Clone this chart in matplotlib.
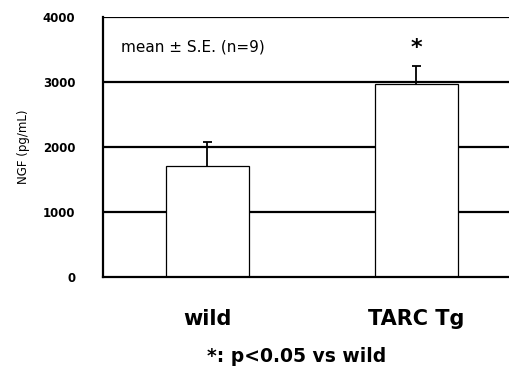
import matplotlib.pyplot as plt

groups = ["wild", "TARC Tg"]
means = [1700, 2970]
se = [380, 275]
yticks = [0, 1000, 2000, 3000, 4000]

fig = plt.figure(figsize=(5.10, 3.71), dpi=100)
ax = fig.add_axes([0.202, 0.2534, 0.80, 0.7008])

x = list(range(len(groups)))
for y in yticks[1:]:
    ax.axhline(y, color="black", lw=1.6, zorder=1)

ax.bar(x, means, width=0.40, color="white", edgecolor="black", lw=0.9, zorder=2)

# upper error bars only, cap on top
tops = [m + e for m, e in zip(means, se)]
ax.vlines(x, means, tops, color="black", lw=1.3, zorder=3)
ax.hlines(tops, [i - 0.022 for i in x], [i + 0.022 for i in x],
          color="black", lw=1.3, zorder=3)

ax.set_xlim(-0.5, 1.453)
ax.set_ylim(0, 4000)
ax.set_yticks(yticks)
ax.set_yticklabels([str(v) for v in yticks], fontsize=8.5, fontweight="bold")
ax.tick_params(axis="y", length=0, pad=20)
ax.tick_params(axis="x", length=0, pad=23)
ax.set_xticks(x)
ax.set_xticklabels(groups, fontsize=15, fontweight="bold")

for s in ["top", "right"]:
    ax.spines[s].set_visible(False)
ax.spines["left"].set_linewidth(1.6)
ax.spines["bottom"].set_linewidth(1.6)

ax.set_ylabel("NGF (pg/mL)", fontsize=8.5, labelpad=9)
ax.text(0.045, 0.885, "mean \u00b1 S.E. (n=9)", transform=ax.transAxes,
        fontsize=11, va="center")
ax.text(1, 3520, "*", ha="center", va="center", fontsize=16, fontweight="bold")

fig.text(0.582, 0.038, "*: p<0.05 vs wild", ha="center", va="center",
         fontsize=13.5, fontweight="bold")

fig.savefig("out.png", dpi=100)
